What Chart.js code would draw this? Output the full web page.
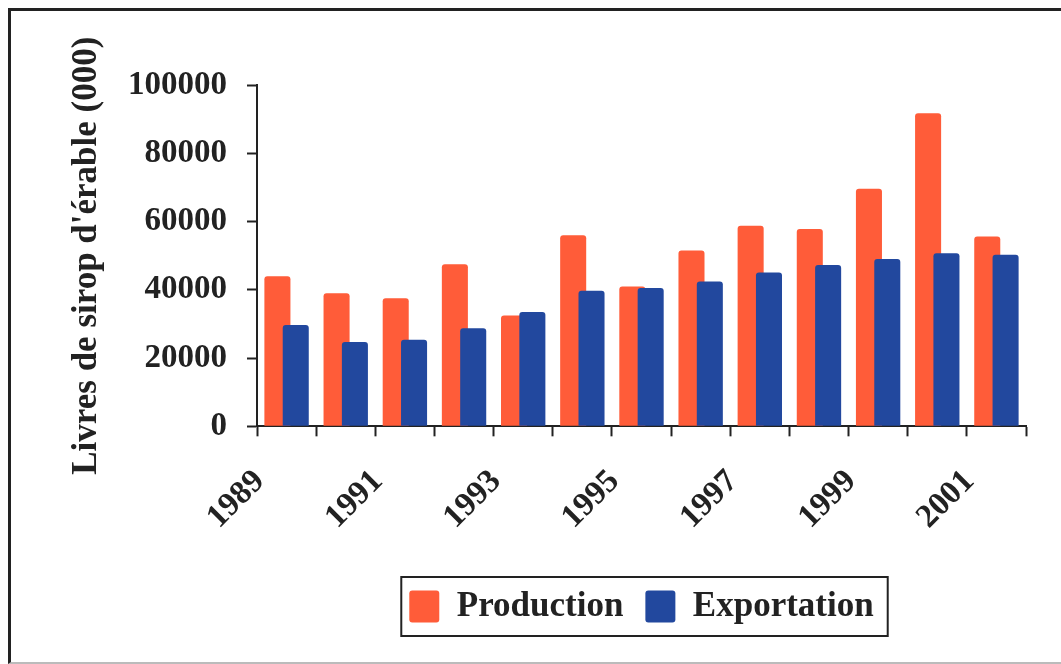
<!DOCTYPE html>
<html>
<head>
<meta charset="utf-8">
<script src="https://cdn.jsdelivr.net/npm/chart.js@4.4.0/dist/chart.umd.min.js"></script>
<style>
  html, body { margin: 0; padding: 0; background: #fff; }
  #frame {
    position: absolute; left: 8px; top: 8px; width: 1053px; height: 651px;
    border-left: 3px solid #222; border-top: 3px solid #222; border-bottom: 2px solid #bbb;
  }
  #chart { position: absolute; left: 0; top: 0; }
</style>
</head>
<body>
<div id="frame"></div>
<canvas id="chart" width="1061" height="664"></canvas>
<script>
// données (milliers de livres)
const years = ["1989", "1990", "1991", "1992", "1993", "1994", "1995",
               "1996", "1997", "1998", "1999", "2000", "2001"];
const shownYears = ["1989", "1991", "1993", "1995", "1997", "1999", "2001"];
const production = [44000, 39000, 37500, 47500, 32500, 56000, 41000,
                    51500, 58800, 57800, 69600, 91700, 55600];
const exportation = [29700, 24700, 25400, 28700, 33500, 39700, 40500,
                     42400, 45100, 47300, 49000, 50700, 50300];
const yTicks = [0, 20000, 40000, 60000, 80000, 100000];

const FONT = "'Liberation Serif', 'DejaVu Serif', serif";
const INK = "#222";

// la série Exportation est dessinée par-dessus Production
const exportOnTop = {
    id: "exportOnTop",
    beforeDatasetDraw(chart, args) {
        if (args.index === 1) return false;
    },
    afterDatasetDraw(chart, args) {
        if (args.index === 0) chart.getDatasetMeta(1).controller.draw();
    }
};

// cadre autour de la légende
const legendFrame = {
    id: "legendFrame",
    afterDraw(chart) {
        const boxes = chart.legend && chart.legend.legendHitBoxes;
        if (!boxes || !boxes.length) return;
        const ctx = chart.ctx;
        const left = Math.min(...boxes.map(b => b.left)) - 8;
        const right = Math.max(...boxes.map(b => b.left + b.width)) + 14;
        const top = boxes[0].top - 12;
        const bottom = boxes[0].top + boxes[0].height + 12;
        ctx.save();
        ctx.strokeStyle = INK;
        ctx.lineWidth = 2;
        ctx.strokeRect(left, top, right - left, bottom - top);
        ctx.restore();
    }
};

new Chart(document.getElementById("chart"), {
    type: "bar",
    data: {
        labels: years,
        datasets: [{
            label: "Production",
            data: production,
            backgroundColor: "#FF5C39",
            borderRadius: 3,
            categoryPercentage: 0.62,
            barPercentage: 1.42
        }, {
            label: "Exportation",
            data: exportation,
            backgroundColor: "#22489E",
            borderRadius: 3,
            categoryPercentage: 0.62,
            barPercentage: 1.42
        }]
    },
    options: {
        responsive: false,
        animation: false,
        layout: { padding: { left: 62, right: 35, top: 85, bottom: 30 } },
        plugins: {
            tooltip: { enabled: false },
            legend: {
                position: "bottom",
                fullSize: false,
                labels: {
                    color: INK,
                    font: { family: FONT, size: 35, weight: "bold" },
                    boxWidth: 30,
                    boxHeight: 32,
                    useBorderRadius: true,
                    borderRadius: 3,
                    padding: 22
                }
            }
        },
        scales: {
            x: {
                border: { color: INK, width: 2 },
                grid: {
                    offset: true,
                    drawOnChartArea: false,
                    tickLength: 10,
                    tickColor: INK,
                    tickWidth: 2
                },
                ticks: {
                    autoSkip: false,
                    minRotation: 45,
                    maxRotation: 45,
                    labelOffset: -27,
                    padding: 26,
                    color: INK,
                    font: { family: FONT, size: 33, weight: "bold" },
                    callback: (v, i) => shownYears.includes(years[i]) ? years[i] : ""
                },
                afterFit: scale => { scale.height += 4; }
            },
            y: {
                min: yTicks[0],
                max: yTicks[yTicks.length - 1],
                border: { color: INK, width: 2 },
                grid: {
                    drawOnChartArea: false,
                    tickLength: 10,
                    tickColor: INK,
                    tickWidth: 2
                },
                ticks: {
                    stepSize: yTicks[1] - yTicks[0],
                    padding: 20,
                    color: INK,
                    font: { family: FONT, size: 33, weight: "bold" },
                    callback: v => String(v)
                },
                title: {
                    display: true,
                    text: "Livres de sirop d'érable (000)",
                    color: INK,
                    font: { family: FONT, size: 35, weight: "bold" },
                    padding: { top: 4, bottom: 0 }
                }
            }
        }
    },
    plugins: [exportOnTop, legendFrame]
});
</script>
</body>
</html>
